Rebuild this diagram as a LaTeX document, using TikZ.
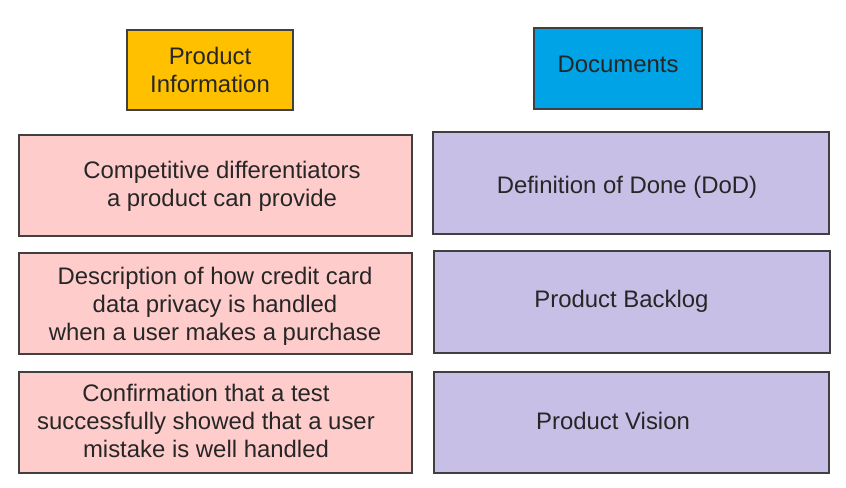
\documentclass[tikz,border=0pt]{standalone}
\usepackage{fontspec}
\setmainfont{Liberation Sans}
\definecolor{pinkfill}{HTML}{FFCCCC}
\definecolor{purplefill}{HTML}{C7BFE6}
\definecolor{yellowfill}{HTML}{FFC000}
\definecolor{bluefill}{HTML}{00A3E6}
\definecolor{edgegray}{HTML}{404040}
\tikzset{
  box/.style={draw=edgegray, line width=1.2bp, inner sep=0pt, outer sep=0pt},
  pinkbox/.style={box, fill=pinkfill},
  purplebox/.style={box, fill=purplefill},
  txt/.style={align=center, inner sep=0pt, text=black!85, font=\fontsize{24}{28}\selectfont},
}
\begin{document}
\begin{tikzpicture}[x=1bp, y=-1bp]
\useasboundingbox (0,0) rectangle (846,488);
% headers
\draw[box, fill=yellowfill] (127,30) rectangle (293,110);
\node[txt] (pi) at (210,70) {Product\\Information};
\draw[box, fill=bluefill] (534,28) rectangle (702,109);
\node[txt] (doc) at (618,64) {Documents};
% left column
\draw[pinkbox] (19,135) rectangle (412,236);
\node[txt] (l1) at (222,186) {Competitive differentiators\\a product can provide};
\draw[pinkbox] (19,253) rectangle (412,354);
\node[txt] (l2) at (215,306) {Description of how credit card\\data privacy is handled\\when a user makes a purchase};
\draw[pinkbox] (19,372) rectangle (412,473);
\node[txt] (l3) at (206,421) {Confirmation that a test\\successfully showed that a user\\mistake is well handled};
% right column
\draw[purplebox] (433,132) rectangle (829,234);
\node[txt] (r1) at (627,187) {Definition of Done (DoD)};
\draw[purplebox] (434,251) rectangle (830,353);
\node[txt] (r2) at (621.5,301) {Product Backlog};
\draw[purplebox] (434,372) rectangle (829,473);
\node[txt] (r3) at (613,421) {Product Vision};
\end{tikzpicture}
\end{document}
